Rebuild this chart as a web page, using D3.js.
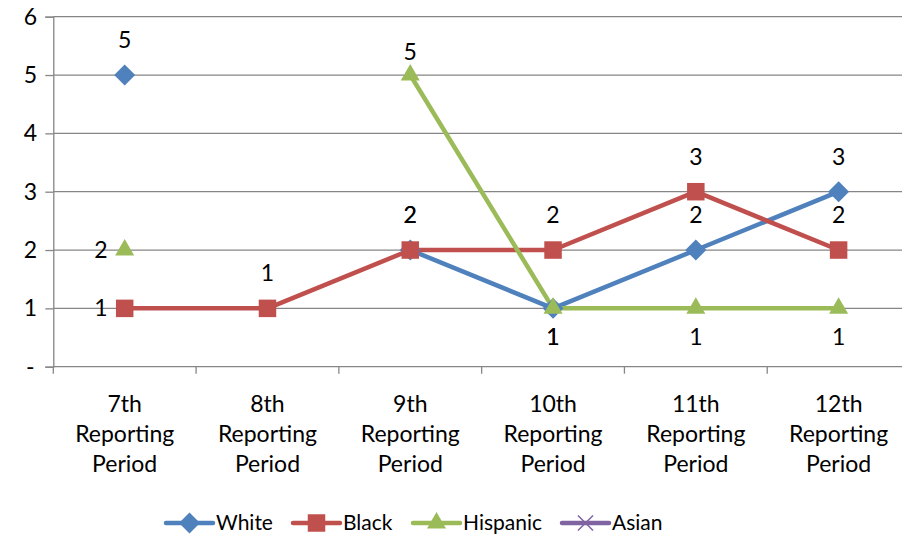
<!DOCTYPE html>
<html>
<head>
<meta charset="utf-8">
<script src="https://cdn.jsdelivr.net/npm/d3@7"></script>
<style>
  html, body { margin: 0; padding: 0; background: #fff; }
  svg { display: block; }
  text { font-family: Lato, "Open Sans", sans-serif; fill: #000; }
</style>
</head>
<body>
<svg id="chart" width="902" height="537"></svg>
<script>
// Reporting periods along the x axis
const categories = [
  "7th Reporting Period",
  "8th Reporting Period",
  "9th Reporting Period",
  "10th Reporting Period",
  "11th Reporting Period",
  "12th Reporting Period"
];

// Counts per period (null = no value reported)
const white    = [5, null, 2, 1, 2, 3];
const black    = [1, 1, 2, 2, 3, 2];
const hispanic = [2, null, 5, 1, 1, 1];
const asian    = [null, null, null, null, null, null];

const seriesNames = ["White", "Black", "Hispanic", "Asian"];
const yTicks = [0, 1, 2, 3, 4, 5, 6];

// Where each data label sits relative to its marker
const labelPlacement = {
  White:    ["above", null, "above", "below", "above", "above"],
  Black:    ["left", "above", "above", "above", "above", "above"],
  Hispanic: ["left", null, "aboveNear", "below", "below", "below"],
  Asian:    [null, null, null, null, null, null]
};

const colors = {
  White: "#4F81BD",
  Black: "#C0504D",
  Hispanic: "#9BBB59",
  Asian: "#8064A2"
};
const symbols = {
  White: d3.symbolDiamond2,
  Black: d3.symbolSquare2,
  Hispanic: d3.symbolTriangle2,
  Asian: d3.symbolX
};

const series = seriesNames.map((name, i) => ({ name, values: [white, black, hispanic, asian][i] }));

const svg = d3.select("#chart");
const plot = { left: 53.3, right: 910, top: 16.7, bottom: 366.7 };
const fontSize = 23;

const x = d3.scaleBand().domain(categories).range([plot.left, plot.right]).padding(0);
const cx = c => x(c) + x.bandwidth() / 2;
const y = d3.scaleLinear().domain([0, 6]).range([plot.bottom, plot.top]);

const axisColor = "#868686";

// Horizontal gridlines
svg.append("g")
  .selectAll("line")
  .data(yTicks.filter(t => t > 0))
  .join("line")
  .attr("x1", plot.left).attr("x2", plot.right)
  .attr("y1", d => y(d)).attr("y2", d => y(d))
  .attr("stroke", axisColor).attr("stroke-width", 1.3);

// Y axis
const yAxis = svg.append("g")
  .attr("transform", `translate(${plot.left},0)`)
  .call(d3.axisLeft(y).tickValues(yTicks).tickSize(8).tickPadding(23)
    .tickFormat(d => d === 0 ? "-" : d));
yAxis.select(".domain").attr("stroke", axisColor).attr("stroke-width", 1.3);
yAxis.selectAll(".tick line").attr("stroke", axisColor).attr("stroke-width", 1.3);
yAxis.selectAll(".tick text")
  .attr("font-size", fontSize).attr("text-anchor", "middle").attr("dx", 8)
  .style("font-family", "Lato, sans-serif");

// X axis: baseline, boundary ticks, wrapped category labels
const xAxis = svg.append("g");
xAxis.append("line")
  .attr("x1", plot.left).attr("x2", plot.right)
  .attr("y1", plot.bottom).attr("y2", plot.bottom)
  .attr("stroke", axisColor).attr("stroke-width", 1.3);
xAxis.selectAll(".xtick")
  .data(categories)
  .join("line")
  .attr("class", "xtick")
  .attr("x1", d => x(d)).attr("x2", d => x(d))
  .attr("y1", plot.bottom).attr("y2", plot.bottom + 7)
  .attr("stroke", axisColor).attr("stroke-width", 1.3);
const catLabels = xAxis.selectAll(".xlabel")
  .data(categories)
  .join("text")
  .attr("class", "xlabel")
  .attr("text-anchor", "middle")
  .attr("font-size", fontSize);
catLabels.each(function(d) {
  const parts = d.split(" ");
  d3.select(this).selectAll("tspan")
    .data(parts)
    .join("tspan")
    .attr("x", cx(d))
    .attr("y", (p, i) => 412 + i * 30)
    .text(p => p);
});

// Lines
const line = d3.line()
  .defined(d => d.v != null)
  .x(d => cx(d.c))
  .y(d => y(d.v));

const pts = s => s.values.map((v, i) => ({ c: categories[i], v, i, name: s.name }));

svg.append("g")
  .selectAll("path")
  .data(series)
  .join("path")
  .attr("d", s => line(pts(s)))
  .attr("fill", "none")
  .attr("stroke", s => colors[s.name])
  .attr("stroke-width", 4.5)
  .attr("stroke-linejoin", "round");

// Markers
const markerSize = { White: 280, Black: 390, Hispanic: 260, Asian: 150 };
series.forEach(s => {
  svg.append("g")
    .selectAll("path")
    .data(pts(s).filter(d => d.v != null))
    .join("path")
    .attr("transform", d => `translate(${cx(d.c)},${y(d.v)})`)
    .attr("d", d3.symbol().type(symbols[s.name]).size(markerSize[s.name]))
    .attr("fill", colors[s.name]);
});

// Data labels
const offsets = {
  above: { dx: 0, dy: -35, anchor: "middle" },
  aboveNear: { dx: 0, dy: -23, anchor: "middle" },
  below: { dx: 0, dy: 29, anchor: "middle" },
  left: { dx: -17, dy: 0, anchor: "end" }
};
series.forEach(s => {
  const data = pts(s).filter(d => d.v != null && labelPlacement[s.name][d.i]);
  svg.append("g")
    .selectAll("text")
    .data(data)
    .join("text")
    .attr("x", d => cx(d.c) + offsets[labelPlacement[s.name][d.i]].dx)
    .attr("y", d => y(d.v) + offsets[labelPlacement[s.name][d.i]].dy)
    .attr("dy", "0.35em")
    .attr("text-anchor", d => offsets[labelPlacement[s.name][d.i]].anchor)
    .attr("font-size", fontSize)
    .text(d => d.v);
});

// Legend
const legendX = [166, 293, 413, 562];
const legendY = 523;
const legend = svg.append("g");
series.forEach((s, i) => {
  const g = legend.append("g").attr("transform", `translate(${legendX[i]},${legendY})`);
  g.append("line")
    .attr("x1", 0).attr("x2", 47)
    .attr("y1", 0).attr("y2", 0)
    .attr("stroke", colors[s.name]).attr("stroke-width", 4.5)
    .attr("stroke-linecap", "round");
  g.append("path")
    .attr("transform", "translate(23.5,0)")
    .attr("d", d3.symbol().type(symbols[s.name]).size(markerSize[s.name]))
    .attr("fill", colors[s.name])
    .attr("stroke", s.name === "Asian" ? colors[s.name] : "none")
    .attr("stroke-width", 1.5);
  g.append("text")
    .attr("x", 50).attr("y", 0).attr("dy", "0.35em")
    .attr("font-size", 21)
    .text(s.name);
});
</script>
</body>
</html>
